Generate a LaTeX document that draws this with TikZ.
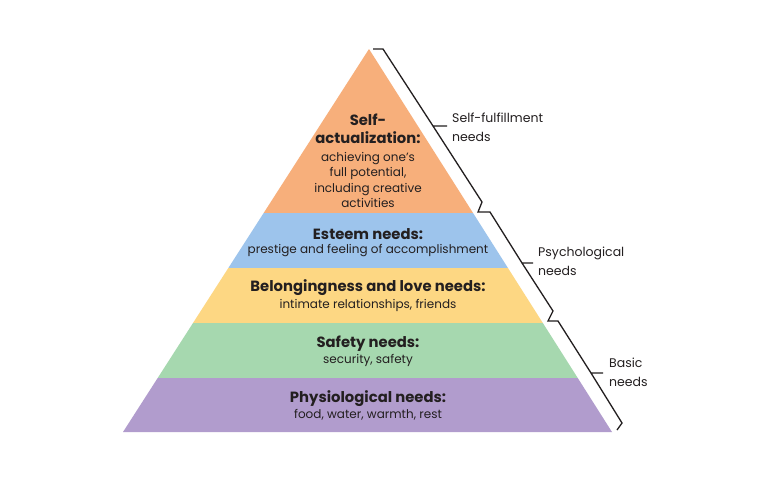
\documentclass[tikz,border=0pt]{standalone}
\usepackage{fontspec}
\setmainfont{Poppins}
\definecolor{c1}{HTML}{F7AF7B}
\definecolor{c2}{HTML}{9DC4EC}
\definecolor{c3}{HTML}{FDD783}
\definecolor{c4}{HTML}{A6D8AF}
\definecolor{c5}{HTML}{B19CCD}
\definecolor{ink}{HTML}{231F20}
\tikzset{
  lbl/.style={text=ink, font=\fontsize{12}{15.3}\selectfont, align=center, inner sep=0pt},
  hd/.style={text=ink, font=\fontsize{14.8}{18}\bfseries\selectfont, align=center, inner sep=0pt},
  side/.style={text=ink, font=\fontsize{12.5}{19}\selectfont, align=left, anchor=west, inner sep=0pt},
  bracestroke/.style={draw=ink, line width=1.3pt, line join=miter}
}
\begin{document}
\begin{tikzpicture}[x=1pt,y=-1pt]
\useasboundingbox (0,0) rectangle (768,480);
\fill[white] (0,0) rectangle (768,480);
\coordinate (apex) at (369,49);
\coordinate (bl) at (123,432);
\coordinate (br) at (612,432);
\begin{scope}
\clip (apex) -- (br) -- (bl) -- cycle;
\fill[c1] (100,40) rectangle (640,213);
\fill[c2] (100,213) rectangle (640,268);
\fill[c3] (100,268) rectangle (640,323);
\fill[c4] (100,323) rectangle (640,378);
\fill[c5] (100,378) rectangle (640,433);
\end{scope}
% texts in the pyramid
\node[hd] (h1) at (368,129) {Self-\\actualization:};
\node[lbl] (t1) at (368,180) {achieving one’s\\full potential,\\including creative\\activities};
\node[hd] (h2) at (368,234) {Esteem needs:};
\node[lbl] (t2) at (368,251) {prestige and feeling of accomplishment};
\node[hd] (h3) at (368,288) {Belongingness and love needs:};
\node[lbl] (t3) at (368,305) {intimate relationships, friends};
\node[hd] (h4) at (368,344) {Safety needs:};
\node[lbl] (t4) at (368,360) {security, safety};
\node[hd] (h5) at (368,399) {Physiological needs:};
\node[lbl] (t5) at (368,415) {food, water, warmth, rest};
% braces
\draw[bracestroke] (373,49) -- (383,49) -- (433,126) -- (447,126) (433,126) -- (482,202) -- (478,212)
  -- (490,212) -- (522,263) -- (533,263) (522,263) -- (553,311) -- (548,321)
  -- (558,321) -- (591,373) -- (603,373) (591,373) -- (622,423) -- (617,430);
\node[side] (s1) at (452,127.5) {Self-fulfillment\\needs};
\node[side] (s2) at (538,261.5) {Psychological\\needs};
\node[side] (s3) at (609,372.5) {Basic\\needs};
\end{tikzpicture}
\end{document}
